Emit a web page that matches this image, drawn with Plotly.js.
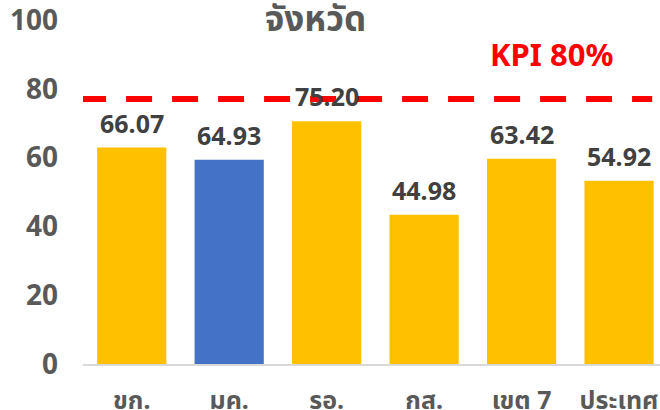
<!DOCTYPE html>
<html>
<head>
<meta charset="utf-8">
<script src="https://cdn.plot.ly/plotly-3.0.1.min.js"></script>
<style>html,body{margin:0;padding:0;background:#fff;}#chart{width:660px;height:410px;}</style>
</head>
<body>
<div id="chart"></div>
<script>
// Data
const categories = ["ขก.", "มค.", "รอ.", "กส.", "เขต 7", "ประเทศ"];
const barValues = [62.9, 59.4, 70.6, 43.4, 59.7, 53.3];      // drawn bar heights
const labelTexts = ["66.07", "64.93", "75.20", "44.98", "63.42", "54.92"]; // printed labels
const barColors = ["#FFC000", "#4472C4", "#FFC000", "#FFC000", "#FFC000", "#FFC000"];
const kpiLine = 77;
const kpiText = "KPI 80%";
const chartTitle = "จังหวัด";
const yTicks = [0, 20, 40, 60, 80, 100];

const FONT = "'Noto Sans', 'Noto Sans Thai', Tahoma, 'DejaVu Sans', sans-serif";

const trace = {
  type: "bar",
  x: categories,
  y: barValues,
  marker: { color: barColors },
  hoverinfo: "skip"
};

const annotations = categories.map((c, i) => ({
  x: c, y: barValues[i], xref: "x", yref: "y",
  text: labelTexts[i], showarrow: false,
  yanchor: "middle", yshift: 25,
  font: { family: FONT, size: 25, color: "#404040", weight: 700 }
}));
annotations.push({
  x: 4.31, y: 90, xref: "x", yref: "y",
  text: kpiText, showarrow: false, xanchor: "center", yanchor: "middle",
  font: { family: FONT, size: 31, color: "#FF0000", weight: 700 }
});

const layout = {
  width: 660, height: 410,
  margin: { l: 83, r: 0, t: 20, b: 46, pad: 0 },
  paper_bgcolor: "#fff", plot_bgcolor: "#fff",
  showlegend: false,
  bargap: 0.29,
  title: {
    text: chartTitle, xref: "container", yref: "container",
    x: 0.478, y: 0.955, xanchor: "center", yanchor: "middle",
    font: { family: FONT, size: 35, color: "#595959", weight: 700 }
  },
  xaxis: {
    type: "category",
    range: [-0.5, 5.42],
    showgrid: false, zeroline: false,
    showline: true, linecolor: "#D9D9D9", linewidth: 2,
    ticks: "", ticklabelstandoff: 13,
    tickfont: { family: FONT, size: 25, color: "#595959", weight: 700 },
    fixedrange: true
  },
  yaxis: {
    range: [0, 100],
    tickvals: yTicks,
    showgrid: false, zeroline: false, showline: false,
    ticks: "", ticklabelstandoff: 24,
    ticklabeloverflow: "allow",
    tickfont: { family: FONT, size: 28, color: "#595959", weight: 700 },
    fixedrange: true
  },
  shapes: [{
    type: "line", xref: "x", yref: "y",
    x0: -0.53, x1: 5.34, y0: kpiLine, y1: kpiLine,
    line: { color: "#FF0000", width: 6, dash: "26px,20px" }
  }],
  annotations: annotations
};

Plotly.newPlot("chart", [trace], layout, { staticPlot: true, displayModeBar: false });
</script>
</body>
</html>
